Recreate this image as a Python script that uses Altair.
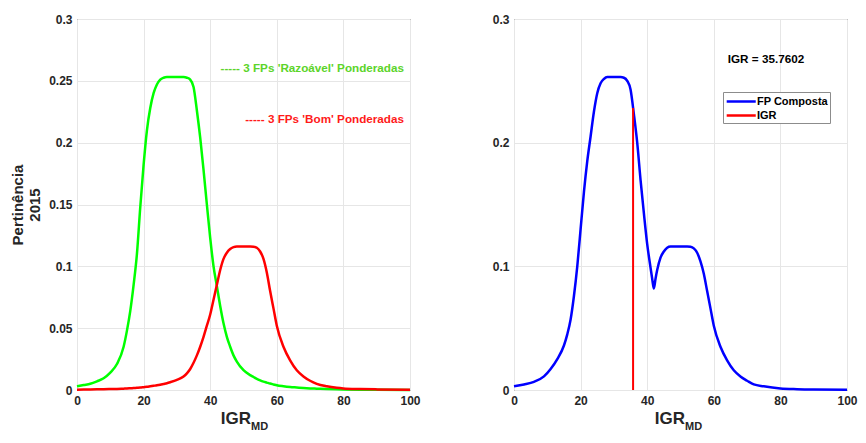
import altair as alt
import pandas as pd

# ---------------- data ----------------
x_vals = [0, 2, 4, 6, 8, 10, 12, 14, 15, 16, 17, 18, 19, 20, 21, 22, 23, 24, 25, 26,
          27, 28, 30, 32, 33, 34, 35, 36, 37, 38, 39, 40, 41, 42, 43, 44, 45, 46, 47, 48,
          50, 52, 53, 54, 55, 56, 57, 58, 59, 60, 62, 64, 66, 68, 70, 72, 75, 78, 80, 85,
          90, 100]

green_razoavel = [0.003, 0.004, 0.005, 0.007, 0.0095, 0.014, 0.021, 0.035, 0.048, 0.064,
                  0.085, 0.11, 0.148, 0.182, 0.21, 0.228, 0.24, 0.247, 0.251, 0.2525,
                  0.253, 0.253, 0.253, 0.253, 0.2525, 0.251, 0.245, 0.226, 0.204, 0.178,
                  0.15, 0.123, 0.1, 0.084, 0.068, 0.054, 0.043, 0.035, 0.028, 0.023,
                  0.016, 0.012, 0.0105, 0.009, 0.0078, 0.0068, 0.006, 0.0052, 0.0045, 0.0038,
                  0.003, 0.0024, 0.002, 0.0016, 0.0013, 0.0011, 0.0008, 0.0006, 0.0005, 0.0003,
                  0.0002, 0.0001]

red_bom = [0.0003, 0.0004, 0.0005, 0.0006, 0.0007, 0.0008, 0.0009, 0.0011, 0.0012, 0.0014,
           0.0016, 0.0018, 0.002, 0.0023, 0.0026, 0.003, 0.0034, 0.0038, 0.0043, 0.0049,
           0.0055, 0.0063, 0.0082, 0.011, 0.0135, 0.017, 0.022, 0.028, 0.035, 0.043,
           0.052, 0.061, 0.073, 0.085, 0.097, 0.106, 0.111, 0.114, 0.1155, 0.116,
           0.116, 0.116, 0.1158, 0.115, 0.112, 0.106, 0.095, 0.08, 0.066, 0.052,
           0.035, 0.024, 0.016, 0.011, 0.0075, 0.005, 0.003, 0.0018, 0.0013, 0.0008,
           0.0005, 0.0002]

blue_x = [0, 3, 6, 9, 11, 13, 15, 16, 17, 18, 19, 20, 21, 22, 23, 24, 25, 26, 27, 28,
          30, 32, 33, 34, 35, 36, 37, 38, 39, 40, 41, 41.5, 42, 42.5, 43, 44, 45, 46, 47,
          48, 50, 52, 53, 54, 55, 56, 57, 58, 59, 60, 62, 64, 66, 68, 70, 72, 75, 80, 85,
          90, 100]

blue_composta = [0.003, 0.0045, 0.0066, 0.011, 0.017, 0.025, 0.036, 0.045, 0.057, 0.076,
                 0.1, 0.13, 0.16, 0.185, 0.205, 0.225, 0.24, 0.248, 0.2515, 0.253,
                 0.253, 0.253, 0.2525, 0.25, 0.243, 0.223, 0.2, 0.17, 0.143, 0.118,
                 0.099, 0.09, 0.082, 0.09, 0.097, 0.107, 0.112, 0.115, 0.116, 0.116,
                 0.116, 0.116, 0.1158, 0.1145, 0.111, 0.104, 0.094, 0.08, 0.066, 0.052,
                 0.035, 0.024, 0.016, 0.011, 0.0075, 0.0045, 0.003, 0.0013, 0.0007, 0.0004,
                 0.0002]

igr_value = 35.7602
igr_top = 0.228

left_y_ticks = [0, 0.05, 0.1, 0.15, 0.2, 0.25, 0.3]
right_y_ticks = [0, 0.1, 0.2, 0.3]
x_ticks = [0, 20, 40, 60, 80, 100]

legend_labels = ["FP Composta", "IGR"]
legend_colors = ["#0000ff", "#ff0000"]

# ---------------- styling ----------------
W, H = 333, 371
FONT = "Liberation Sans"
DARK = "#262626"
GRID = "#e6e6e6"

x_scale = alt.Scale(domain=[0, 100], nice=False)
y_scale = alt.Scale(domain=[0, 0.3], nice=False)


def x_axis():
    return alt.Axis(values=x_ticks, title=None, grid=True, gridColor=GRID,
                    ticks=False, domain=False, labelPadding=5, labelFlush=False)


green_df = pd.DataFrame({"x": x_vals, "y": green_razoavel})
red_df = pd.DataFrame({"x": x_vals, "y": red_bom})
blue_df = pd.DataFrame({"x": blue_x, "y": blue_composta,
                        "s": ["FP Composta"] * len(blue_x)})
igr_df = pd.DataFrame({"x": [igr_value], "y": [0.0], "y2": [igr_top], "s": ["IGR"]})

# ---------------- left panel ----------------
left_y_axis = alt.Axis(values=left_y_ticks, format="~g", title=["Pertinência", "2015"],
                       grid=True, gridColor=GRID, ticks=False, domain=False,
                       labelPadding=5, titlePadding=6, titleFontSize=15,
                       titleFont=FONT, titleFontWeight="bold", titleColor=DARK,
                       titleLineHeight=17)

green_line = alt.Chart(green_df).mark_line(color="#00ff00", strokeWidth=2.5,
                                           interpolate="monotone").encode(
    x=alt.X("x:Q", scale=x_scale, axis=x_axis()),
    y=alt.Y("y:Q", scale=y_scale, axis=left_y_axis),
)
red_line = alt.Chart(red_df).mark_line(color="#ff0000", strokeWidth=2.5,
                                       interpolate="monotone").encode(
    x=alt.X("x:Q", scale=x_scale),
    y=alt.Y("y:Q", scale=y_scale),
)

ann_green = alt.Chart(pd.DataFrame({"x": [98.2], "y": [0.2605],
                                    "t": ["----- 3 FPs 'Razoável' Ponderadas"]})).mark_text(
    align="right", baseline="middle", font=FONT, fontSize=11.7, fontWeight="bold",
    color="#5cd42a").encode(x=alt.X("x:Q", scale=x_scale), y=alt.Y("y:Q", scale=y_scale),
                            text="t:N")
ann_red = alt.Chart(pd.DataFrame({"x": [98.2], "y": [0.219],
                                  "t": ["----- 3 FPs 'Bom' Ponderadas"]})).mark_text(
    align="right", baseline="middle", font=FONT, fontSize=11.7, fontWeight="bold",
    color="#ff1a1a").encode(x=alt.X("x:Q", scale=x_scale), y=alt.Y("y:Q", scale=y_scale),
                            text="t:N")

one = pd.DataFrame({"a": [0]})


def x_title(xpos):
    main = alt.Chart(one).mark_text(text="IGR", align="right", baseline="alphabetic",
                                    font=FONT, fontSize=17, fontWeight="bold",
                                    color=DARK).encode(x=alt.value(xpos), y=alt.value(H + 34))
    sub = alt.Chart(one).mark_text(text="MD", align="left", baseline="alphabetic",
                                   font=FONT, fontSize=11, fontWeight="bold",
                                   color=DARK).encode(x=alt.value(xpos), y=alt.value(H + 40))
    return main + sub


left = alt.layer(green_line, red_line, ann_green, ann_red, x_title(174)).properties(
    width=W, height=H)

# ---------------- right panel ----------------
right_y_axis = alt.Axis(values=right_y_ticks, format="~g", title=None, grid=True,
                        gridColor=GRID, ticks=False, domain=False, labelPadding=5)

color_enc = alt.Color("s:N", scale=alt.Scale(domain=legend_labels, range=legend_colors),
                      legend=alt.Legend(title=None, orient="none", legendX=209, legendY=73,
                                        symbolType="M-1,0H4", symbolSize=135,
                                        symbolStrokeWidth=2.5, strokeColor="#8c8c8c",
                                        fillColor="white", padding=2, labelFont=FONT,
                                        labelFontSize=11, labelFontWeight="bold",
                                        labelColor="#000000", labelOffset=17,
                                        rowPadding=1))

blue_line = alt.Chart(blue_df).mark_line(strokeWidth=2.5, interpolate="monotone").encode(
    x=alt.X("x:Q", scale=x_scale, axis=x_axis()),
    y=alt.Y("y:Q", scale=y_scale, axis=right_y_axis),
    color=color_enc,
)
igr_rule = alt.Chart(igr_df).mark_rule(strokeWidth=2).encode(
    x=alt.X("x:Q", scale=x_scale),
    y=alt.Y("y:Q", scale=y_scale),
    y2="y2:Q",
    color=color_enc,
)
igr_text = alt.Chart(pd.DataFrame({"x": [64.2], "y": [0.2675],
                                   "t": ["IGR = 35.7602"]})).mark_text(
    align="left", baseline="middle", font=FONT, fontSize=11.7, fontWeight="bold",
    color="#000000").encode(x=alt.X("x:Q", scale=x_scale), y=alt.Y("y:Q", scale=y_scale),
                            text="t:N")

right = alt.layer(blue_line, igr_rule, igr_text, x_title(171)).properties(width=W, height=H)

chart = alt.hconcat(left, right, spacing=70).resolve_scale(color="independent").configure_view(
    stroke="#262626", strokeWidth=1
).configure_axis(
    labelFont=FONT, labelFontSize=12, labelFontWeight="bold", labelColor=DARK
).properties(background="white", padding={"left": 2, "top": 4, "right": 0, "bottom": 0})

chart.save("out.html", embed_options={"renderer": "svg", "actions": False})
